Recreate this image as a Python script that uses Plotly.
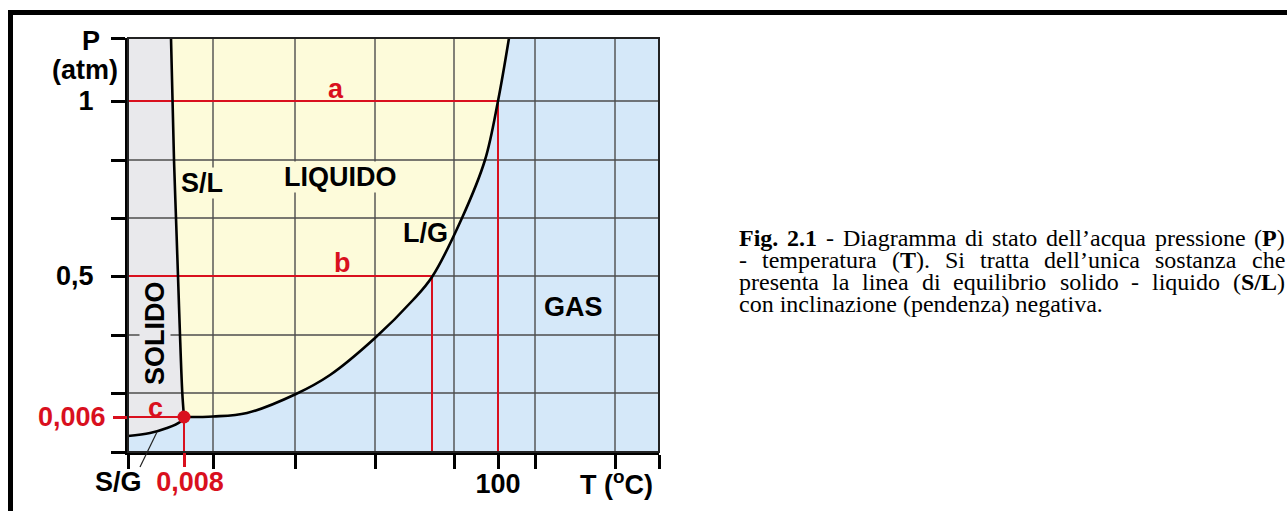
import plotly.graph_objects as go

# ---- schematic P-T diagram of water (diagram units: T 0..531, P 0..414) ----
T_RANGE = [0, 531]
P_RANGE = [0, 414]

# axis ticks and their labels
x_tick_vals = [0, 85, 167, 247, 326, 370, 407, 487, 531]
x_tick_text = ["", "", "", "", "", "100", "", "", ""]
y_tick_vals = [0, 59, 117, 176, 234, 292, 351, 414]
y_tick_text = ["", "", "", "0,5", "", "", "1", ""]

# grid lines
x_grid = [85, 167, 247, 326, 407, 487]
y_grid = [59, 117, 176, 234, 292, 351]

# triple point
triple_T, triple_P = 56, 35
triple_T_text = "0,008"
triple_P_text = "0,006"

# boiling point at 1 atm (a) and at 0.5 atm (b)
a_T, a_P = 370, 351
b_T, b_P = 304, 176

# equilibrium curves, each starting at the triple point
sl_T = [56, 54.3, 52, 50, 48, 46, 43]
sl_P = [35, 59, 117, 176, 234, 292, 414]
lg_T = [56, 85, 119, 168, 202, 247, 285, 304, 334, 357, 370, 381]
lg_P = [35, 35.5, 39, 58, 77, 114, 152, 175, 234, 292, 351, 414]
sg_T = [0, 22, 39, 52, 56]
sg_P = [16, 19, 24, 30, 35]

# caption (words per line; **x** marks bold runs)
caption_lines = [
    ["**Fig.**", "**2.1**", "-", "Diagramma", "di", "stato", "dell’acqua", "pressione", "(**P**)"],
    ["-", "temperatura", "(**T**).", "Si", "tratta", "dell’unica", "sostanza", "che"],
    ["presenta", "la", "linea", "di", "equilibrio", "solido", "-", "liquido", "(**S/L**)"],
    ["con", "inclinazione", "(pendenza)", "negativa."],
]

# ---- styling ----
SANS = "Liberation Sans, Arial, sans-serif"
SERIF = "Liberation Serif, Times New Roman, serif"
SOLID_C = "#e9e9ec"
LIQUID_C = "#fdfbda"
GAS_C = "#d5e8f9"
RED = "#d9101e"
GRID_C = "#4d4d4d"
FS = 27

W, H = 1287, 511
PL, PR, PT, PB = 128, 659, 38, 452  # plot area in pixels


def px_x(px):
    return (px - PL) / (PR - PL)


def px_y(py):
    return (PB - py) / (PB - PT)


fig = go.Figure()

# phase regions
solid_T = sg_T + sl_T[1:] + [0]
solid_P = sg_P + sl_P[1:] + [P_RANGE[1]]
fig.add_trace(go.Scatter(x=solid_T, y=solid_P, fill="toself", fillcolor=SOLID_C,
                         mode="lines", line=dict(width=0),
                         hoverinfo="skip", showlegend=False))
liquid_T = sl_T[::-1] + lg_T[1:]
liquid_P = sl_P[::-1] + lg_P[1:]
fig.add_trace(go.Scatter(x=liquid_T, y=liquid_P, fill="toself", fillcolor=LIQUID_C,
                         mode="lines", line=dict(width=0),
                         hoverinfo="skip", showlegend=False))

# grid
gx, gy = [], []
for v in x_grid:
    gx += [v, v, None]
    gy += [P_RANGE[0], P_RANGE[1], None]
for v in y_grid:
    gx += [T_RANGE[0], T_RANGE[1], None]
    gy += [v, v, None]
fig.add_trace(go.Scatter(x=gx, y=gy, mode="lines", line=dict(color=GRID_C, width=1.4),
                         hoverinfo="skip", showlegend=False))

# red reading lines a, b, c
for T, P, ax_x, ax_y in [(a_T, a_P, "x", "y"), (b_T, b_P, "x", "y"),
                         (triple_T, triple_P, "x2", "y2")]:
    fig.add_trace(go.Scatter(x=[0, T, T], y=[P, P, 0], mode="lines",
                             line=dict(color=RED, width=2), xaxis=ax_x, yaxis=ax_y,
                             hoverinfo="skip", showlegend=False))

# equilibrium curves
for xs, ys in [(sl_T, sl_P), (lg_T, lg_P), (sg_T, sg_P)]:
    fig.add_trace(go.Scatter(x=xs, y=ys, mode="lines",
                             line=dict(color="black", width=2.6, shape="spline", smoothing=1),
                             hoverinfo="skip", showlegend=False))

# triple point
fig.add_trace(go.Scatter(x=[triple_T], y=[triple_P], mode="markers",
                         marker=dict(color=RED, size=13), xaxis="x2", yaxis="y2",
                         hoverinfo="skip", showlegend=False))

tick_font = dict(family=SANS, size=FS, color="black", weight="bold")
red_font = dict(family=SANS, size=FS, color=RED, weight="bold")
common = dict(showgrid=False, zeroline=False, ticks="outside", ticklen=14, tickwidth=3,
              fixedrange=True, automargin=False)

fig.update_layout(
    width=W, height=H, autosize=False,
    margin=dict(l=PL, r=W - PR, t=PT, b=H - PB, pad=0),
    paper_bgcolor="white", plot_bgcolor=GAS_C,
    xaxis=dict(range=T_RANGE, tickvals=x_tick_vals, ticktext=x_tick_text, tickcolor="black",
               showline=True, linecolor="black", linewidth=3, tickfont=tick_font,
               ticklabelstandoff=-8, **common),
    yaxis=dict(range=P_RANGE, tickvals=y_tick_vals, ticktext=y_tick_text, tickcolor="black",
               showline=True, linecolor="black", linewidth=3, tickfont=tick_font,
               ticklabelstandoff=12, **common),
    xaxis2=dict(range=T_RANGE, overlaying="x", anchor="y", side="bottom",
                tickvals=[triple_T], ticktext=[triple_T_text], tickcolor=RED,
                showline=False, tickfont=red_font, ticklabelstandoff=-8, ticklabelshift=6,
                **common),
    yaxis2=dict(range=P_RANGE, overlaying="y", anchor="x", side="left",
                tickvals=[triple_P], ticktext=[triple_P_text], tickcolor=RED,
                showline=False, tickfont=red_font, ticklabelstandoff=2, **common),
)

ann = []


def label(text, x, y, color="black", bg=None, angle=0, **kw):
    d = dict(text=text, x=x, y=y, xref="x", yref="y", showarrow=False,
             font=dict(family=SANS, size=FS, color=color, weight="bold"),
             textangle=angle)
    if bg:
        d.update(bgcolor=bg, borderpad=0)
    d.update(kw)
    ann.append(d)


# region names and curve names
label("SOLIDO", 27, 119, bg=SOLID_C, angle=-90)
label("S/L", 74, 269, bg=LIQUID_C)
label("LIQUIDO", 212, 275, bg=LIQUID_C)
label("L/G", 297, 219)
label("GAS", 445, 145)
label("a", 208, 363, color=RED)
label("b", 214, 189, color=RED)
label("c", 27, 44, color=RED)

# axis titles and the S/G name below the axis
label("P", 0, P_RANGE[1], xshift=-37, yshift=-3)
label("(atm)", 0, P_RANGE[1], xshift=-43, yshift=-32)
label("T (<sup>o</sup>C)", T_RANGE[1], 0, xshift=-43, yshift=-31)
label("S/G", 0, 0, xshift=-10, yshift=-30)

# ---- caption, justified between two edges ----
TIMES = {" ": 250, "(": 333, ")": 333, "-": 333, ".": 250, "/": 278, "’": 333,
         "a": 444, "b": 500, "c": 444, "d": 500, "e": 444, "f": 333, "g": 500, "h": 500,
         "i": 278, "j": 278, "k": 500, "l": 278, "m": 778, "n": 500, "o": 500, "p": 500,
         "q": 500, "r": 333, "s": 389, "t": 278, "u": 500, "v": 500, "w": 722, "x": 500,
         "y": 500, "z": 444, "D": 722, "S": 556, "F": 611}
TIMES_B = {".": 250, "/": 278, "F": 611, "i": 278, "g": 500, "P": 611, "T": 667,
           "S": 556, "L": 667}
CAP_SIZE = 24
CAP_X0, CAP_X1 = 737, 1283
CAP_Y = [238, 260, 282, 304]


def runs(word):
    parts = word.split("**")
    return [(p, i % 2 == 1) for i, p in enumerate(parts) if p]


def width(word):
    tot = 0
    for txt, bold in runs(word):
        for ch in txt:
            tot += (TIMES_B.get(ch, 500) if bold else TIMES.get(ch, 500))
    return tot / 1000 * CAP_SIZE


def html(word):
    return "".join(f"<b>{t}</b>" if b else t for t, b in runs(word))


cap_font = dict(family=SERIF, size=CAP_SIZE, color="black")
for li, words in enumerate(caption_lines):
    y = px_y(CAP_Y[li])
    if li < len(caption_lines) - 1:
        widths = [width(w) for w in words]
        gap = (CAP_X1 - CAP_X0 - sum(widths)) / (len(words) - 1)
        x = CAP_X0
        for w, wd in zip(words, widths):
            ann.append(dict(text=html(w), x=px_x(x), y=y, xref="paper", yref="paper",
                            xanchor="left", yanchor="middle", showarrow=False,
                            font=cap_font))
            x += wd + gap
    else:
        ann.append(dict(text=" ".join(html(w) for w in words), x=px_x(CAP_X0), y=y,
                        xref="paper", yref="paper", xanchor="left", yanchor="middle",
                        showarrow=False, font=cap_font))

fig.update_layout(annotations=ann)

# plot frame, S/G leader line and the heavy page rule
shapes = [
    dict(type="rect", xref="paper", yref="paper", x0=0, x1=1, y0=0, y1=1,
         line=dict(color="#222", width=2), layer="above"),
    dict(type="line", xref="paper", yref="paper", x0=px_x(157), x1=px_x(140),
         y0=px_y(432), y1=px_y(467), line=dict(color="#222", width=1.2), layer="above"),
    dict(type="line", xref="paper", yref="paper", x0=px_x(8), x1=px_x(W + 5),
         y0=px_y(12.5), y1=px_y(12.5), line=dict(color="black", width=5)),
    dict(type="line", xref="paper", yref="paper", x0=px_x(10.5), x1=px_x(10.5),
         y0=px_y(10), y1=px_y(H + 10), line=dict(color="black", width=5)),
]
fig.update_layout(shapes=shapes)

fig.write_html("out.html")
